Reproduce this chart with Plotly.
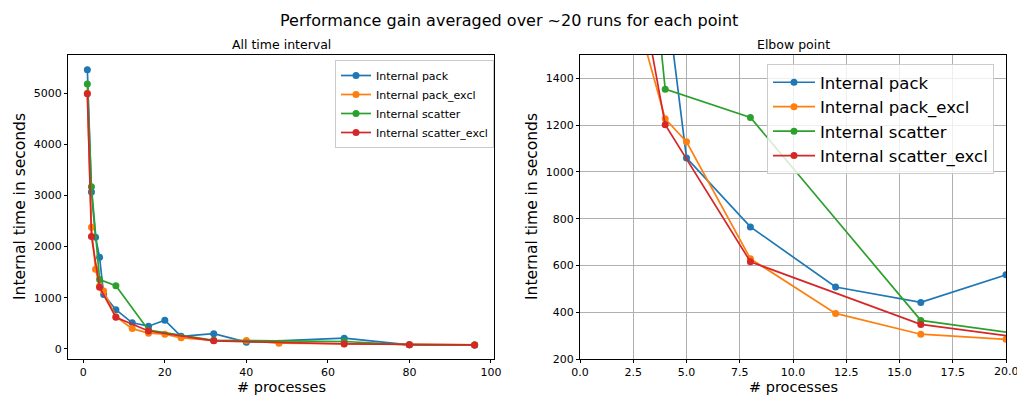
import plotly.graph_objects as go
from plotly.subplots import make_subplots

# ---- data ----
series_names = ["Internal pack", "Internal pack_excl", "Internal scatter", "Internal scatter_excl"]
colors = ["#1f77b4", "#ff7f0e", "#2ca02c", "#d62728"]

x_pack = [1, 2, 3, 4, 5, 8, 12, 16, 20, 24, 32, 40, 64, 80, 96]
y_pack = [5460, 3070, 2185, 1790, 1060, 765, 508, 442, 560, 245, 295, 130, 208, 78, 72]

x_pack_excl = [1, 2, 3, 4, 5, 8, 12, 16, 20, 24, 32, 40, 48, 64, 80, 96]
y_pack_excl = [5000, 2380, 1556, 1227, 1129, 629, 395, 306, 284, 215, 162, 160, 110, 100, 78, 75]

x_scatter = [1, 2, 4, 8, 16, 32, 64, 80, 96]
y_scatter = [5180, 3170, 1354, 1233, 365, 165, 143, 78, 75]

x_scatter_excl = [1, 2, 4, 8, 16, 32, 64, 80, 96]
y_scatter_excl = [4990, 2200, 1202, 616, 348, 155, 95, 78, 75]

xs = [x_pack, x_pack_excl, x_scatter, x_scatter_excl]
ys = [y_pack, y_pack_excl, y_scatter, y_scatter_excl]

left_xticks = [0, 20, 40, 60, 80, 100]
left_yticks = [0, 1000, 2000, 3000, 4000, 5000]
right_xticks = [0, 2.5, 5, 7.5, 10, 12.5, 15, 17.5, 20]
right_yticks = [200, 400, 600, 800, 1000, 1200, 1400]

suptitle = "Performance gain averaged over ~20 runs for each point"
left_title = "All time interval"
right_title = "Elbow point"
xlabel = "# processes"
ylabel = "Internal time in seconds"

FONT = "DejaVu Sans"

fig = make_subplots(rows=1, cols=2)

for i in range(4):
    fig.add_trace(go.Scatter(x=xs[i], y=ys[i], mode="lines+markers", name=series_names[i],
                             line=dict(color=colors[i], width=1.7),
                             marker=dict(color=colors[i], size=7),
                             legend="legend"), row=1, col=1)
for i in range(4):
    fig.add_trace(go.Scatter(x=xs[i], y=ys[i], mode="lines+markers", name=series_names[i],
                             line=dict(color=colors[i], width=1.7),
                             marker=dict(color=colors[i], size=7),
                             legend="legend2"), row=1, col=2)

W, H = 1017, 396
def px_x(p): return p / W
def px_y(p): return (H - p) / H

axis_common = dict(showline=True, linecolor="black", linewidth=1, mirror=True,
                   ticks="outside", ticklen=3, tickwidth=1, tickcolor="black",
                   zeroline=False, automargin=False,
                   tickfont=dict(family=FONT, size=11, color="black"))

fig.update_xaxes(domain=[px_x(68), px_x(494)], range=[-3.75, 100.75],
                 tickvals=left_xticks, showgrid=False, row=1, col=1, **axis_common)
fig.update_yaxes(domain=[px_y(359), px_y(55)], range=[-200, 5750],
                 tickvals=left_yticks, showgrid=False, row=1, col=1, **axis_common)
# last right x tick label ("20.0") sits on the page edge: plotly hides it, so it is drawn as an annotation
fig.update_xaxes(domain=[px_x(580), px_x(1006)], range=[0, 20],
                 tickvals=right_xticks,
                 ticktext=[f"{v:.1f}" for v in right_xticks[:-1]] + [""],
                 showgrid=True, gridcolor="#b0b0b0", gridwidth=1, row=1, col=2, **axis_common)
fig.update_yaxes(domain=[px_y(359), px_y(55)], range=[200, 1500],
                 tickvals=right_yticks,
                 showgrid=True, gridcolor="#b0b0b0", gridwidth=1, row=1, col=2, **axis_common)

annotations = [
    dict(text=suptitle, x=0.5, y=px_y(21), font=dict(size=16)),
    dict(text=left_title, x=px_x(281), y=px_y(44), font=dict(size=12.5)),
    dict(text=right_title, x=px_x(793), y=px_y(44), font=dict(size=12.5)),
    dict(text=ylabel, x=px_x(20), y=px_y(207), font=dict(size=15.5), textangle=-90),
    dict(text=ylabel, x=px_x(532), y=px_y(207), font=dict(size=15.5), textangle=-90),
]
for a in annotations:
    a.update(yanchor="middle")
annotations += [
    dict(text=xlabel, x=px_x(281), y=0, yanchor="bottom", font=dict(size=14.5)),
    dict(text=xlabel, x=px_x(793), y=0, yanchor="bottom", font=dict(size=14.5)),
]
for a in annotations:
    a.update(xref="paper", yref="paper", showarrow=False, xanchor="center", borderpad=0)
    a["font"].update(family=FONT, color="black")
annotations.append(dict(text=f"{right_xticks[-1]:.1f}", x=right_xticks[-1], xref="x2",
                        y=px_y(371), yref="paper", showarrow=False,
                        xanchor="center", yanchor="middle",
                        font=dict(family=FONT, size=11, color="black")))

fig.update_layout(
    width=W, height=H, margin=dict(l=0, r=0, t=0, b=0, autoexpand=False),
    paper_bgcolor="white", plot_bgcolor="white",
    font=dict(family=FONT, color="black"),
    annotations=annotations,
    showlegend=True,
    legend=dict(x=px_x(335), y=px_y(60), xanchor="left", yanchor="top",
                bgcolor="rgba(255,255,255,0.8)", bordercolor="#cccccc", borderwidth=1,
                font=dict(family=FONT, size=11), itemwidth=30),
    legend2=dict(x=px_x(767), y=px_y(64), xanchor="left", yanchor="top",
                 bgcolor="rgba(255,255,255,0.8)", bordercolor="#cccccc", borderwidth=1,
                 font=dict(family=FONT, size=16.5), itemwidth=42),
)

fig.write_html("out.html")
